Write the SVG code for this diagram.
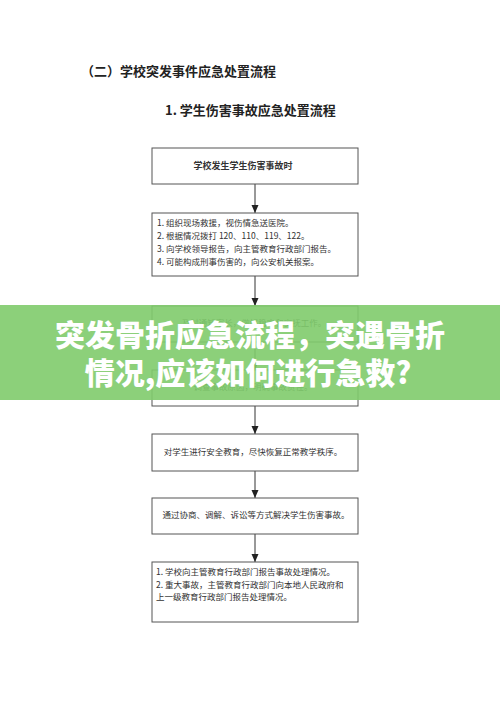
<svg xmlns="http://www.w3.org/2000/svg" width="500" height="707" viewBox="0 0 500 707">
<style>
.t{font-family:"Noto Sans CJK SC","Liberation Serif",sans-serif;fill:#333;}
.h{font-size:13px;font-weight:bold;fill:#222;}
.b{font-size:8.5px;}
.box{fill:#fff;stroke:#555;stroke-width:1;}
.ln{stroke:#333;stroke-width:1;fill:none;}
.ban{font-family:"Noto Sans CJK SC","Noto Sans",sans-serif;font-size:30px;font-weight:900;fill:#fff;text-anchor:middle;}
</style>
<defs>
<marker id="ar" viewBox="0 0 8 8" refX="8" refY="4" markerWidth="8" markerHeight="8" orient="auto" markerUnits="userSpaceOnUse">
<path d="M0,0.5 L8,4 L0,7.5 z" fill="#222"/>
</marker>
</defs>
<rect width="500" height="707" fill="#fff"/>
<text class="t h" x="81" y="76">（二）学校突发事件应急处置流程</text>
<text class="t h" x="165" y="115">1. 学生伤害事故应急处置流程</text>

<g id="connectors">
<line class="ln" x1="255" y1="184" x2="255" y2="213" marker-end="url(#ar)"/>
<line class="ln" x1="255" y1="276" x2="255" y2="306" marker-end="url(#ar)"/>
<line class="ln" x1="255" y1="342" x2="255" y2="370" marker-end="url(#ar)"/>
<line class="ln" x1="255" y1="406" x2="255" y2="434" marker-end="url(#ar)"/>
<line class="ln" x1="255" y1="471" x2="255" y2="498" marker-end="url(#ar)"/>
<line class="ln" x1="255" y1="534" x2="255" y2="562" marker-end="url(#ar)"/>
</g>

<g id="nodeA">
<rect class="box" x="152" y="148" width="206" height="36"/>
<text class="t" x="243" y="169" font-size="9" font-weight="bold" text-anchor="middle">学校发生学生伤害事故时</text>
</g>
<g id="nodeB">
<rect class="box" x="152" y="213" width="206" height="63"/>
<text class="t b" x="157" y="226">1. 组织现场救援，视伤情急送医院。</text>
<text class="t b" x="157" y="239">2. 根据情况拨打 120、110、119、122。</text>
<text class="t b" x="157" y="252">3. 向学校领导报告，向主管教育行政部门报告。</text>
<text class="t b" x="157" y="265">4. 可能构成刑事伤害的，向公安机关报案。</text>
</g>
<g id="nodeC">
<rect class="box" x="152" y="306" width="206" height="36"/>
<text class="t b" x="254" y="326" text-anchor="middle">及时通知家长，做好稳定和安抚工作。</text>
</g>
<g id="nodeD">
<rect class="box" x="152" y="370" width="206" height="36"/>
<text class="t b" x="253" y="390" text-anchor="middle">调查事故原因，明确事故责任。</text>
</g>
<g id="nodeE">
<rect class="box" x="152" y="434" width="206" height="37"/>
<text class="t b" x="253" y="455" text-anchor="middle">对学生进行安全教育，尽快恢复正常教学秩序。</text>
</g>
<g id="nodeF">
<rect class="box" x="152" y="498" width="206" height="36"/>
<text class="t b" x="256" y="518" text-anchor="middle">通过协商、调解、诉讼等方式解决学生伤害事故。</text>
</g>
<g id="nodeG">
<rect class="box" x="152" y="562" width="206" height="60"/>
<text class="t b" x="156" y="575">1. 学校向主管教育行政部门报告事故处理情况。</text>
<text class="t b" x="156" y="588">2. 重大事故，主管教育行政部门向本地人民政府和</text>
<text class="t b" x="156" y="600">上一级教育行政部门报告处理情况。</text>
</g>

<g id="banner">
<rect x="0" y="305" width="500" height="95" fill="#80cb6b" fill-opacity="0.9"/>
<text class="ban" x="250" y="346">突发骨折应急流程，突遇骨折</text>
<text class="ban" x="248" y="384">情况,应该如何进行急救?</text>
</g>
</svg>
